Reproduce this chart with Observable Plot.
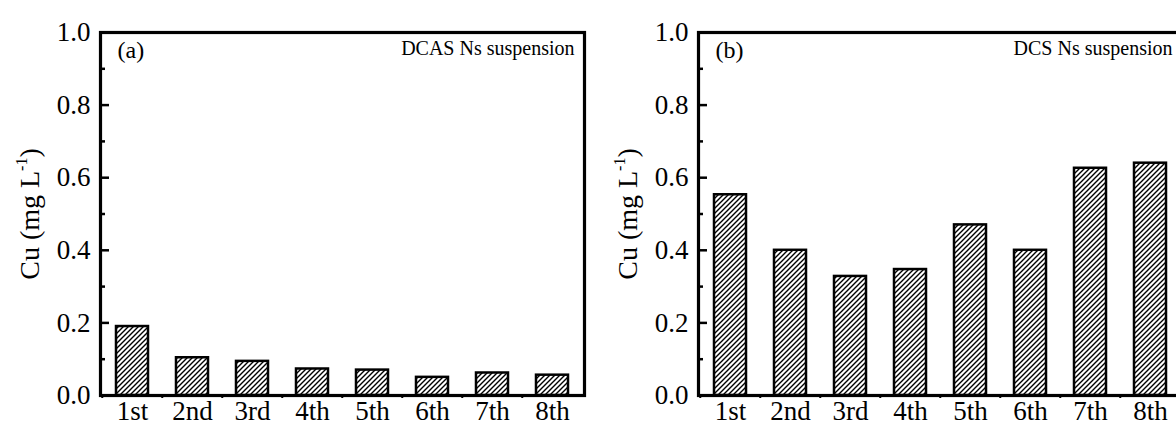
<!DOCTYPE html>
<html><head><meta charset="utf-8">
<script src="https://cdn.jsdelivr.net/npm/d3@7"></script>
<script src="https://cdn.jsdelivr.net/npm/@observablehq/plot@0.6"></script>
<style>
html,body{margin:0;padding:0;background:#fff;width:1176px;height:429px;overflow:hidden;}
#wrap{position:relative;width:1176px;height:429px;overflow:hidden;}
.panel{position:absolute;top:0;height:429px;}
.panel svg{overflow:visible;max-width:none !important;display:block;font-family:'Liberation Serif','Times New Roman',serif !important;}
.panel svg text{font-family:'Liberation Serif','Times New Roman',serif;}
</style></head><body><div id="wrap"><div id="pa" class="panel"></div><div id="pb" class="panel"></div></div>
<script>
const cycles = ["1st","2nd","3rd","4th","5th","6th","7th","8th"];
const cuDCAS = [0.19, 0.104, 0.094, 0.073, 0.07, 0.05, 0.062, 0.056];
const cuDCS = [0.553, 0.40, 0.328, 0.347, 0.47, 0.40, 0.626, 0.64];
const yMajor = [0, 0.2, 0.4, 0.6, 0.8, 1.0];
const yMinor = [0.1, 0.3, 0.5, 0.7, 0.9];
const panelTags = ["(a)", "(b)"];
const seriesNames = ["DCAS Ns suspension", "DCS Ns suspension"];
const yTitleMain = "Cu (mg L";
const yTitleSup = "-1";

const FONT = "'Liberation Serif', 'Times New Roman', serif";

function panel(values, tag, name, opts) {
  const {width, ml, mr, barFrac, id} = opts;
  const mt = 32, mb = 34, height = 429;
  const step = (width - ml - mr) / cycles.length;
  const pi = 1 - barFrac;
  const data = cycles.map((c, i) => ({cycle: c, cu: values[i]}));
  const svg = Plot.plot({
    width, height, marginLeft: ml, marginRight: mr, marginTop: mt, marginBottom: mb,
    style: {fontFamily: FONT, background: "transparent", overflow: "visible", color: "#000"},
    x: {domain: cycles, paddingInner: pi, paddingOuter: pi / 2, align: 0.5},
    y: {domain: [0, 1]},
    marks: [
      Plot.barY(data, {x: "cycle", y: "cu", fill: `url(#hatch-${id})`, stroke: "#000", strokeWidth: 2.5}),
      Plot.axisY(yMajor, {tickSize: 0, tickPadding: 10, tickFormat: d3.format(".1f"), fontSize: 27,
        label: yTitleMain + yTitleSup + ")", labelAnchor: "center", labelArrow: "none", labelOffset: 81}),
      Plot.axisY(yMajor, {tickSize: 9, dx: 9, tickFormat: () => "", label: null, strokeWidth: 2.5}),
      Plot.axisY(yMinor, {tickSize: 5, dx: 5, tickFormat: () => "", label: null, strokeWidth: 2.5}),
      Plot.axisX({tickSize: 0, tickPadding: 5, fontSize: 27, label: null}),
      Plot.axisX({tickSize: 3, dx: -step / 2, tickFormat: () => "", label: null, strokeWidth: 2}),
      Plot.frame({stroke: "#000", strokeWidth: 3.2}),
      Plot.text([tag], {text: d => d, frameAnchor: "top-left", textAnchor: "start", dx: 17, dy: 8, fontSize: 24, fill: "#000"}),
      Plot.text([name], {text: d => d, frameAnchor: "top-right", textAnchor: "end", dx: -10, dy: 8, fontSize: 20, fill: "#000"})
    ]
  });
  const s = d3.select(svg);
  const defs = s.insert("defs", ":first-child");
  const pat = defs.append("pattern").attr("id", `hatch-${id}`).attr("patternUnits", "userSpaceOnUse")
    .attr("width", 5).attr("height", 5);
  pat.append("rect").attr("width", 5).attr("height", 5).attr("fill", "#fff");
  pat.append("path").attr("d", "M-1,1 l2,-2 M0,5 l5,-5 M4,6 l2,-2")
    .attr("stroke", "#000").attr("stroke-width", 1.4).attr("stroke-linecap", "square");
  const lab = s.select('g[aria-label="y-axis label"] text');
  if (!lab.empty()) {
    lab.text(null).attr("font-size", 28);
    lab.append("tspan").text(yTitleMain);
    lab.append("tspan").text(yTitleSup).attr("font-size", 16).attr("dy", -12);
    lab.append("tspan").text(")").attr("dy", 12);
  }
  return svg;
}

const a = panel(cuDCAS, panelTags[0], seriesNames[0], {width: 600, ml: 100, mr: 16, barFrac: 0.53, id: "a"});
const b = panel(cuDCS, panelTags[1], seriesNames[1], {width: 600, ml: 100, mr: 16, barFrac: 0.53, id: "b"});
const pa = document.getElementById("pa"), pb = document.getElementById("pb");
pa.style.left = "0px"; pa.style.width = "600px"; pa.appendChild(a);
pb.style.left = "598px"; pb.style.width = "600px"; pb.appendChild(b);
</script></body></html>
